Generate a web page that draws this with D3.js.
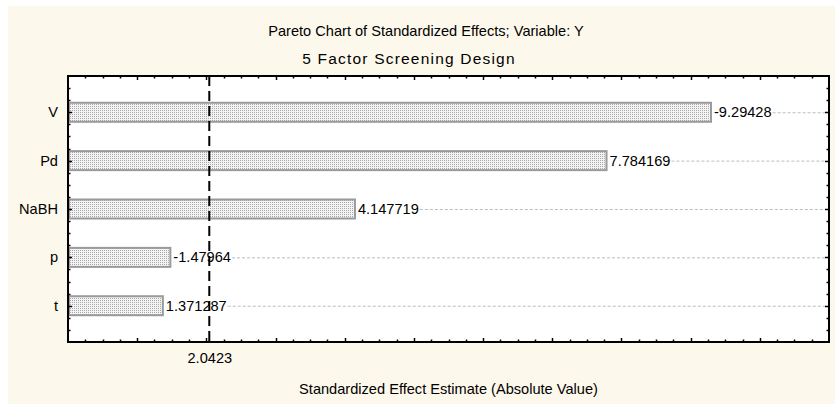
<!DOCTYPE html>
<html>
<head>
<meta charset="utf-8">
<script src="https://cdn.jsdelivr.net/npm/d3@7/dist/d3.min.js"></script>
<style>
  html, body { margin: 0; padding: 0; background: #ffffff; }
  svg { display: block; }
  text { font-family: "Liberation Sans", Arial, sans-serif; fill: #000; }
</style>
</head>
<body>
<svg id="chart" width="835" height="404"></svg>
<script>
// Factors and their standardized effects (signed t-values)
const factors = ["V", "Pd", "NaBH", "p", "t"];
const effects = [-9.29428, 7.784169, 4.147719, -1.47964, 1.371287];
// Critical t-value at p = .05
const critical = 2.0423;
const titleLines = ["Pareto Chart of Standardized Effects; Variable: Y", "5 Factor Screening Design"];
const xTitle = "Standardized Effect Estimate (Absolute Value)";
const xDomain = [0, 11];

const W = 835, H = 404;
const plot = { left: 68, right: 829, top: 76, bottom: 342 };
const FS = 14.6;

const svg = d3.select("#chart");

// dotted fill for the bars
const defs = svg.append("defs");
const pat = defs.append("pattern")
  .attr("id", "dots").attr("patternUnits", "userSpaceOnUse")
  .attr("width", 2).attr("height", 2);
pat.append("rect").attr("width", 2).attr("height", 2).attr("fill", "#f4f4f4");
pat.append("rect").attr("width", 1).attr("height", 1).attr("fill", "#a8a8a8");

// cream panel
svg.append("rect").attr("x", 8).attr("y", 6).attr("width", W - 8).attr("height", H - 6)
  .attr("fill", "#fdf8ec");

// plotting area
svg.append("rect")
  .attr("x", plot.left).attr("y", plot.top)
  .attr("width", plot.right - plot.left).attr("height", plot.bottom - plot.top)
  .attr("fill", "#ffffff");

const x = d3.scaleLinear().domain(xDomain).range([plot.left, plot.right]);
const y = d3.scaleLinear().domain([0.25, factors.length + 0.75]).range([plot.top, plot.bottom]);
const barH = 19;

// titles
svg.append("text").attr("x", 426).attr("y", 36).attr("text-anchor", "middle")
  .attr("font-size", FS).text(titleLines[0]);
svg.append("text").attr("x", 409).attr("y", 64).attr("text-anchor", "middle")
  .attr("font-size", 15.5).attr("letter-spacing", 1.2).text(titleLines[1]);

const rows = factors.map((f, i) => ({ f, v: effects[i], pos: i + 1 }));

// bars
svg.append("g").selectAll("rect").data(rows).join("rect")
  .attr("x", x(0) + 1)
  .attr("y", d => y(d.pos) - barH / 2)
  .attr("width", d => x(Math.abs(d.v)) - x(0) - 1)
  .attr("height", barH)
  .attr("fill", "url(#dots)")
  .attr("stroke", "#9a9a9a")
  .attr("stroke-width", 2);

// value labels with a dashed guide running to the right border
const lab = svg.append("g");
rows.forEach(d => {
  const tx = x(Math.abs(d.v)) + 3;
  const t = lab.append("text")
    .attr("x", tx).attr("y", y(d.pos) + 5)
    .attr("font-size", FS).text(String(d.v));
  const w = t.node().getComputedTextLength();
  lab.insert("line", "text")
    .attr("x1", tx + w + 1).attr("x2", plot.right)
    .attr("y1", y(d.pos) + 0.5).attr("y2", y(d.pos) + 0.5)
    .attr("stroke", "#bdbdbd").attr("stroke-width", 1)
    .attr("stroke-dasharray", "3,2");
});

// critical value reference line
svg.append("line")
  .attr("x1", x(critical)).attr("x2", x(critical))
  .attr("y1", plot.top).attr("y2", plot.bottom)
  .attr("stroke", "#000").attr("stroke-width", 2)
  .attr("stroke-dasharray", "10,5");

// frame ticks (inward), major at integers, minor at quarters
const xTicks = d3.range(xDomain[0] * 4 + 1, xDomain[1] * 4).map(k => k / 4);
const yTicks = d3.range(2, (factors.length + 0.75) * 4).map(k => k / 4);
const tk = svg.append("g").attr("stroke", "#000").attr("stroke-width", 1.5);
xTicks.forEach(v => {
  const len = Number.isInteger(v) ? 4 : 2.5;
  const px = Math.round(x(v)) + 0.5;
  tk.append("line").attr("x1", px).attr("x2", px).attr("y1", plot.bottom).attr("y2", plot.bottom - len);
  tk.append("line").attr("x1", px).attr("x2", px).attr("y1", plot.top).attr("y2", plot.top + len);
});
yTicks.forEach(v => {
  const len = Number.isInteger(v) ? 4 : 2.5;
  const py = Math.round(y(v)) + 0.5;
  tk.append("line").attr("y1", py).attr("y2", py).attr("x1", plot.left).attr("x2", plot.left + len);
  tk.append("line").attr("y1", py).attr("y2", py).attr("x1", plot.right).attr("x2", plot.right - len);
});

// frame
svg.append("rect")
  .attr("x", plot.left).attr("y", plot.top)
  .attr("width", plot.right - plot.left).attr("height", plot.bottom - plot.top)
  .attr("fill", "none").attr("stroke", "#000").attr("stroke-width", 2);

// category labels
svg.append("g").selectAll("text").data(rows).join("text")
  .attr("x", plot.left - 10).attr("y", d => y(d.pos) + 5)
  .attr("text-anchor", "end").attr("font-size", FS).text(d => d.f);

// x-axis: only the critical value is labelled
const xAxis = d3.axisBottom(x).tickValues([critical]).tickSize(0).tickPadding(11);
const gx = svg.append("g").attr("transform", `translate(0,${plot.bottom})`).call(xAxis);
gx.select(".domain").remove();
gx.selectAll("text").attr("font-size", FS).attr("font-family", "Liberation Sans, Arial, sans-serif").attr("fill", "#000")
  .text(d => String(d));

svg.append("text").attr("x", (plot.left + plot.right) / 2).attr("y", 394)
  .attr("text-anchor", "middle").attr("font-size", FS).text(xTitle);
</script>
</body>
</html>
